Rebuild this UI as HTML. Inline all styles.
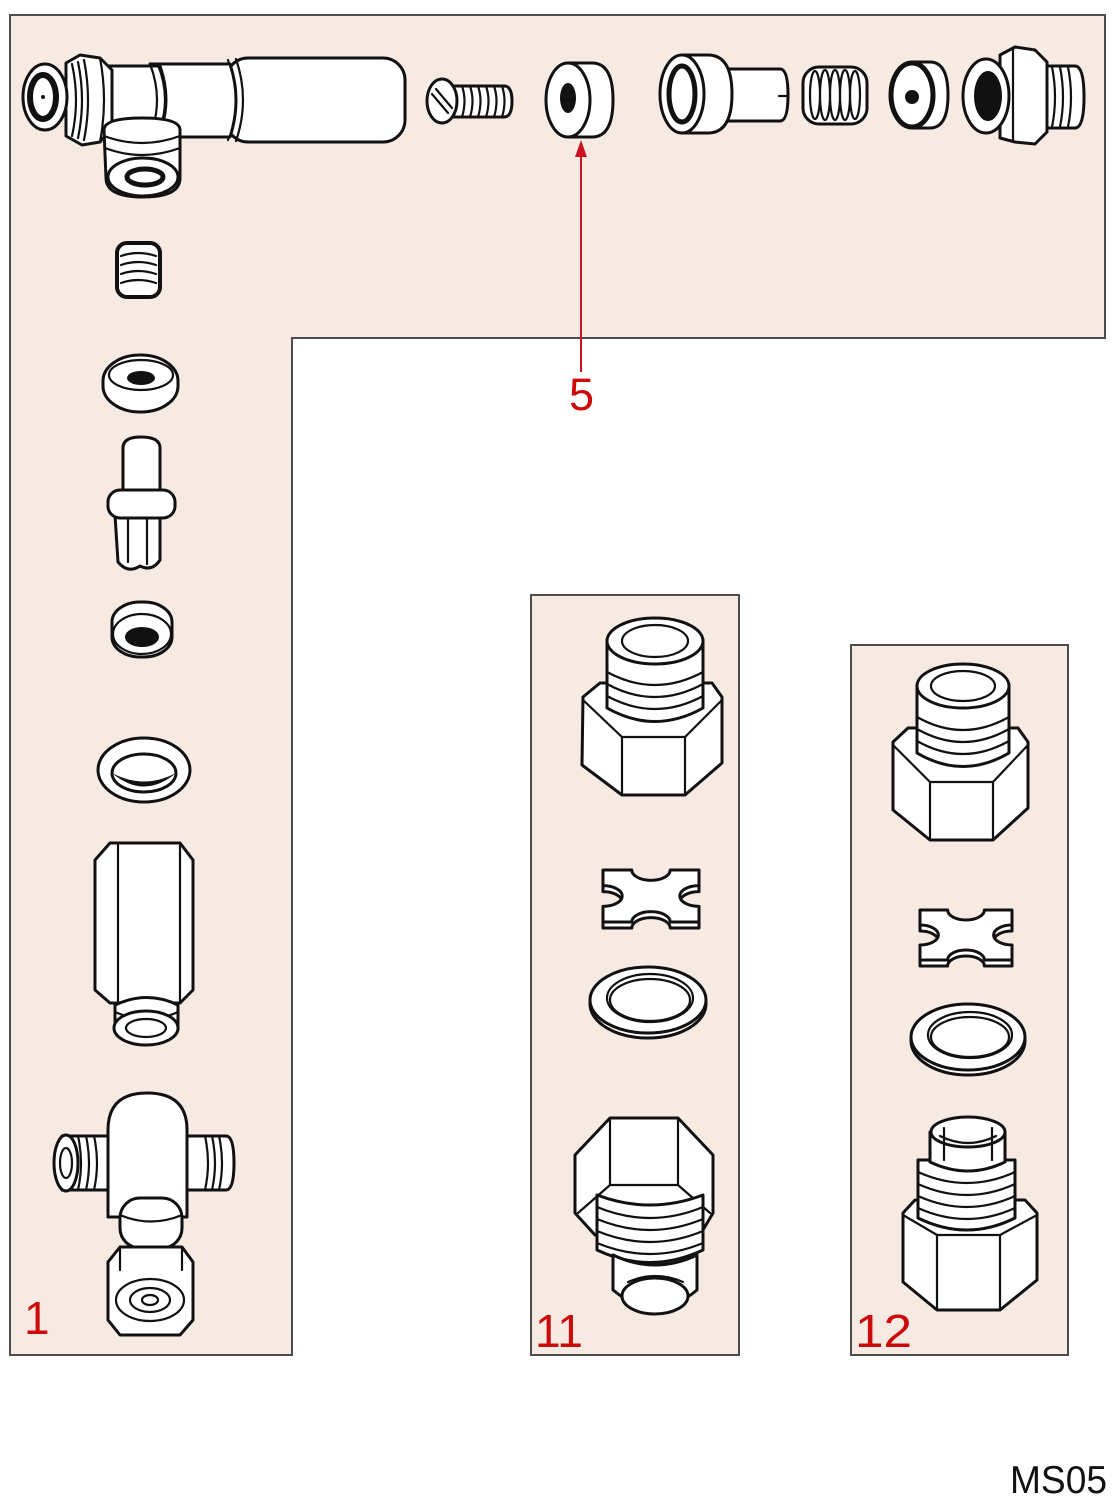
<!DOCTYPE html>
<html><head><meta charset="utf-8"><style>
html,body{margin:0;padding:0;background:#fff}
svg{display:block}
.p{fill:#fff;stroke:#111;stroke-width:3;stroke-linejoin:round;stroke-linecap:round}
.l{fill:none;stroke:#111;stroke-width:2.2;stroke-linecap:round}
.k{fill:#111}
.t{fill:#cc0a0a;font-family:"Liberation Sans",sans-serif}
</style></head><body>
<svg width="1118" height="1500" viewBox="0 0 1118 1500" xmlns="http://www.w3.org/2000/svg">
<rect width="1118" height="1500" fill="#fff"/>
<!-- panels -->
<path d="M10,15 H1105 V338 H292 V1355 H10 Z" fill="#f6eae2" stroke="#4d4d4d" stroke-width="2"/>
<rect x="531" y="595" width="208" height="760" fill="#f6eae2" stroke="#4d4d4d" stroke-width="2"/>
<rect x="851" y="645" width="217" height="710" fill="#f6eae2" stroke="#4d4d4d" stroke-width="2"/>

<!-- ===== top-left T fitting ===== -->
<rect class="p" x="226" y="58" width="179" height="84" rx="22"/>
<path class="l" d="M236,59 Q250,100 236,141"/>
<path class="l" d="M228,60 Q242,100 228,140"/>
<path class="p" d="M150,64 H230 Q242,100 230,137 H150 Z"/>
<path class="p" d="M106,66 H160 Q172,100 160,132 H106 Z"/>
<path class="l" d="M150,64 Q164,100 150,136"/>
<path class="l" d="M158,65 Q172,100 158,134"/>
<path class="p" d="M66,63 L80,55 L100,58 L112,70 V128 L100,142 L82,145 L66,136 Z"/>
<path class="l" d="M100,58 Q108,100 100,142"/>
<path class="l" d="M72,64 Q80,100 72,136"/>
<path class="l" d="M78,62 Q86,100 78,138"/>
<path class="l" d="M84,60 Q92,100 84,140"/>
<ellipse class="p" cx="45" cy="97" rx="22" ry="33"/>
<ellipse cx="43" cy="97" rx="13" ry="22" fill="#fff" stroke="#111" stroke-width="6"/>
<circle class="k" cx="43" cy="97" r="2"/>
<path class="p" d="M104,130 Q104,118 142,118 Q180,118 180,130 V178 Q180,197 143,197 Q106,197 106,178 Z"/>
<path class="l" d="M104,136 Q142,150 180,136"/>
<path class="l" d="M105,148 Q142,162 180,148"/>
<ellipse class="p" cx="143" cy="177" rx="35" ry="19"/>
<ellipse cx="145" cy="177" rx="18" ry="8" fill="#fff" stroke="#111" stroke-width="5"/>

<!-- screw -->
<path class="p" d="M448,86 H504 Q512,86 512,101 Q512,117 504,117 H448 Z"/>
<path class="l" d="M462,86 Q467,101 462,117 M470,86 Q475,101 470,117 M478,86 Q483,101 478,117 M486,86 Q491,101 486,117 M494,86 Q499,101 494,117 M502,86 Q507,101 502,117"/>
<ellipse class="p" cx="442" cy="101" rx="15" ry="22"/>
<path class="l" d="M432,94 L448,113 M436,89 L452,108" stroke-width="2.5"/>

<!-- washer 5 -->
<path class="p" d="M568,63 H592 Q613,63 613,100 Q613,137 592,137 H568 Z"/>
<ellipse class="p" cx="568" cy="100" rx="22" ry="37"/>
<ellipse class="k" cx="568" cy="98" rx="8" ry="15"/>

<!-- valve -->
<path class="p" d="M715,69 H780 Q788,69 788,95 Q788,121 780,121 H715 Z"/>
<path class="l" d="M779,96 H788" stroke-width="3"/>
<path class="p" d="M682,55 H708 Q732,55 732,94 Q732,133 708,133 H682 Z"/>
<ellipse class="p" cx="682" cy="94" rx="22" ry="39"/>
<ellipse cx="682" cy="94" rx="13" ry="28" fill="#fff" stroke="#111" stroke-width="5"/>

<!-- spring -->
<rect class="p" x="803" y="67" width="64" height="57" rx="16" stroke-width="3"/>
<g class="l"><ellipse cx="815" cy="95" rx="5" ry="24"/><ellipse cx="825" cy="95" rx="5" ry="25"/><ellipse cx="835" cy="95" rx="5" ry="25"/><ellipse cx="845" cy="95" rx="5" ry="25"/><ellipse cx="855" cy="95" rx="5" ry="24"/></g>

<!-- small washer -->
<path class="p" d="M912,62 H930 Q948,62 948,95 Q948,128 930,128 H912 Z" stroke-width="3"/>
<ellipse cx="912" cy="95" rx="21" ry="32" fill="#fff" stroke="#111" stroke-width="5"/>
<circle class="k" cx="912" cy="97" r="7"/>

<!-- right fitting -->
<path class="p" d="M1040,66 H1075 Q1084,66 1084,97 Q1084,128 1075,128 H1040 Z"/>
<path class="l" d="M1052,67 Q1058,97 1052,127 M1060,67 Q1066,97 1060,127 M1068,67 Q1074,97 1068,127"/>
<path class="p" d="M1000,55 L1015,47 L1035,50 L1047,62 V132 L1035,144 L1015,142 L1000,138 Z"/>
<path class="l" d="M1013,48 V142"/>
<ellipse class="p" cx="986" cy="96" rx="23" ry="37" stroke-width="3"/>
<ellipse class="k" cx="988" cy="96" rx="14" ry="25"/>

<!-- ===== left column ===== -->
<rect x="117" y="243" width="43" height="54" rx="10" fill="#fff" stroke="#111" stroke-width="4"/>
<path class="l" d="M121,256 Q138,250 156,256 M121,265 Q138,259 156,265 M121,274 Q138,268 156,274 M121,283 Q138,277 156,283"/>

<rect class="p" x="103" y="355" width="75" height="57" rx="37" ry="26" stroke-width="3.5"/>
<ellipse class="l" cx="141" cy="375" rx="32" ry="15" stroke-width="3"/>
<ellipse class="k" cx="141" cy="378" rx="14" ry="7"/>

<path class="p" d="M123,497 V448 Q123,437 141,437 Q160,437 160,448 V497 Z"/>
<path class="p" d="M115,515 H160 V560 Q152,572 140,566 Q128,574 118,562 Z"/>
<path class="l" d="M128,518 V562 M147,518 V564"/>
<rect class="p" x="108" y="490" width="67" height="28" rx="12" stroke-width="3"/>

<rect class="p" x="112" y="602" width="60" height="55" rx="28" ry="20" stroke-width="3"/>
<ellipse class="l" cx="142" cy="634" rx="29" ry="20"/>
<ellipse class="k" cx="142" cy="637" rx="17" ry="10"/>

<ellipse class="p" cx="144" cy="770" rx="46" ry="32" stroke-width="4"/>
<ellipse cx="144" cy="773" rx="32" ry="19" fill="#fff" stroke="#111" stroke-width="3"/>
<path class="k" d="M112,773 Q144,800 176,773 Q144,790 112,773 Z"/>

<!-- hex sleeve -->
<path class="p" d="M110,843 H180 L193,860 V990 L180,1003 H110 L95,990 V860 Z"/>
<path class="l" d="M118,845 V1002 M180,845 V1002"/>
<path class="p" d="M115,1005 Q147,990 178,1005 V1030 Q147,1048 115,1030 Z"/>
<path class="l" d="M115,1012 Q147,1026 178,1012"/>
<ellipse class="p" cx="146" cy="1028" rx="32" ry="17"/>
<ellipse class="l" cx="146" cy="1028" rx="20" ry="9"/>

<!-- tee -->
<path class="p" d="M62,1136 H108 V1190 H62 Z"/>
<path class="l" d="M78,1136 Q84,1163 78,1190 M86,1136 Q92,1163 86,1190 M94,1136 Q100,1163 94,1190"/>
<ellipse class="p" cx="66" cy="1163" rx="12" ry="28"/>
<ellipse class="l" cx="66" cy="1163" rx="6" ry="15"/>
<path class="p" d="M187,1136 H226 Q234,1136 234,1163 Q234,1190 226,1190 H187 Z"/>
<path class="l" d="M205,1136 Q211,1163 205,1190 M212,1136 Q218,1163 212,1190 M219,1136 Q225,1163 219,1190"/>
<path class="p" d="M108,1130 Q108,1093 147,1093 Q187,1093 187,1130 V1217 H108 Z"/>
<rect class="p" x="120" y="1198" width="62" height="50" rx="20"/>
<path class="l" d="M120,1215 Q151,1228 182,1215"/>
<path class="p" d="M120,1247 H182 L193,1262 V1320 L180,1335 H120 L108,1320 V1262 Z"/>
<path class="l" d="M120,1247 V1270 M182,1247 V1270"/>
<ellipse class="l" cx="150" cy="1300" rx="34" ry="21"/>
<ellipse class="l" cx="150" cy="1300" rx="20" ry="12"/>
<ellipse class="l" cx="150" cy="1300" rx="8" ry="5"/>

<!-- ===== panel 11 ===== -->
<path class="p" d="M583,697 L600,683 H712 L722,697 V763 L685,795 H622 L582,765 Z"/>
<path class="l" d="M583,700 L622,737 H685 L722,700 M622,737 V795 M685,737 V795"/>
<path class="p" d="M607,640 V708 Q655,735 703,708 V640 Z"/>
<path class="l" d="M607,672 Q655,698 703,672 M607,684 Q655,710 703,684 M607,696 Q655,722 703,696"/>
<ellipse class="p" cx="655" cy="641" rx="48" ry="23"/>
<ellipse class="l" cx="655" cy="641" rx="33" ry="16"/>

<!-- cross 11 -->
<path class="p" d="M603,876 L631.8,876 A19.2,10.4 0 0 0 670.2,876 L699,876 L699,891.6 A19.2,10.4 0 0 0 699,912.4 L699,928 L670.2,928 A19.2,10.4 0 0 0 631.8,928 L603,928 L603,912.4 A19.2,10.4 0 0 0 603,891.6 Z"/>
<path class="p" d="M603,870 L631.8,870 A19.2,10.4 0 0 0 670.2,870 L699,870 L699,885.6 A19.2,10.4 0 0 0 699,906.4 L699,922 L670.2,922 A19.2,10.4 0 0 0 631.8,922 L603,922 L603,906.4 A19.2,10.4 0 0 0 603,885.6 Z"/>

<ellipse class="p" cx="648" cy="1004" rx="58" ry="34"/>
<ellipse class="p" cx="648" cy="1000" rx="58" ry="33"/>
<ellipse class="l" cx="650" cy="998" rx="43" ry="24"/>
<ellipse class="l" cx="650" cy="1000" rx="40" ry="21"/>

<path class="p" d="M610,1118 H678 L713,1155 V1213 L700,1235 H595 L575,1213 V1155 Z"/>
<path class="l" d="M610,1118 V1185 M678,1118 V1185 M610,1185 H678 M610,1185 L578,1213 M678,1185 L710,1213"/>
<path class="p" d="M597,1195 Q650,1215 703,1195 V1250 Q650,1275 597,1250 Z"/>
<path class="l" d="M597,1207 Q650,1229 703,1207 M597,1219 Q650,1241 703,1219 M597,1231 Q650,1253 703,1231 M597,1243 Q650,1265 703,1243"/>
<path class="p" d="M613,1255 Q655,1275 697,1255 V1290 Q655,1325 613,1290 Z"/>
<ellipse class="p" cx="655" cy="1296" rx="33" ry="18"/>
<path class="l" d="M628,1282 Q655,1270 683,1282"/>

<!-- ===== panel 12 ===== -->
<g transform="translate(308,45)">
<path class="p" d="M585,697 L600,683 H710 L720,697 V763 L685,795 H622 L585,765 Z"/>
<path class="l" d="M585,700 L622,737 H685 L720,700 M622,737 V795 M685,737 V795"/>
<path class="p" d="M609,640 V708 Q655,735 701,708 V640 Z"/>
<path class="l" d="M609,672 Q655,698 701,672 M609,684 Q655,710 701,684 M609,696 Q655,722 701,696"/>
<ellipse class="p" cx="655" cy="641" rx="46" ry="22"/>
<ellipse class="l" cx="655" cy="641" rx="32" ry="15"/>
</g>

<!-- cross 12 -->
<path class="p" d="M920,916 L947.6,916 A18.4,10 0 0 0 984.4,916 L1012,916 L1012,931 A18.4,10 0 0 0 1012,951 L1012,966 L984.4,966 A18.4,10 0 0 0 947.6,966 L920,966 L920,951 A18.4,10 0 0 0 920,931 Z"/>
<path class="p" d="M920,910 L947.6,910 A18.4,10 0 0 0 984.4,910 L1012,910 L1012,925 A18.4,10 0 0 0 1012,945 L1012,960 L984.4,960 A18.4,10 0 0 0 947.6,960 L920,960 L920,945 A18.4,10 0 0 0 920,925 Z"/>

<ellipse class="p" cx="968" cy="1041" rx="57" ry="34"/>
<ellipse class="p" cx="968" cy="1037" rx="57" ry="33"/>
<ellipse class="l" cx="970" cy="1035" rx="42" ry="23"/>
<ellipse class="l" cx="970" cy="1037" rx="39" ry="20"/>

<path class="p" d="M903,1213 L915,1200 H1025 L1037,1213 V1280 L1000,1310 H937 L903,1282 Z"/>
<path class="l" d="M903,1215 L937,1235 H1000 L1037,1215 M937,1235 V1310 M1000,1235 V1310"/>
<path class="p" d="M918,1160 V1218 Q967,1242 1015,1218 V1160 Z"/>
<path class="l" d="M918,1172 Q967,1194 1015,1172 M918,1184 Q967,1206 1015,1184 M918,1196 Q967,1218 1015,1196 M918,1208 Q967,1230 1015,1208"/>
<path class="p" d="M930,1132 V1162 Q968,1180 1005,1162 V1132 Z"/>
<ellipse class="p" cx="968" cy="1132" rx="37" ry="15"/>
<path class="l" d="M940,1136 Q968,1150 996,1136 M944,1128 V1160 M992,1128 V1160"/>

<!-- labels -->
<line x1="581" y1="372" x2="581" y2="152" stroke="#cc1122" stroke-width="2"/>
<polygon points="581,140 575,157 587,157" fill="#cc1122"/>
<text class="t" x="569" y="410" font-size="45">5</text>
<text class="t" x="24" y="1334" font-size="46">1</text>
<text class="t" x="535" y="1347" font-size="46" textLength="48" lengthAdjust="spacingAndGlyphs">11</text>
<text class="t" x="855" y="1347" font-size="46" textLength="57" lengthAdjust="spacingAndGlyphs">12</text>
<text x="1010" y="1493" font-size="39" font-family="Liberation Sans, sans-serif" fill="#111" textLength="97" lengthAdjust="spacingAndGlyphs">MS05</text>
</svg>
</body></html>
